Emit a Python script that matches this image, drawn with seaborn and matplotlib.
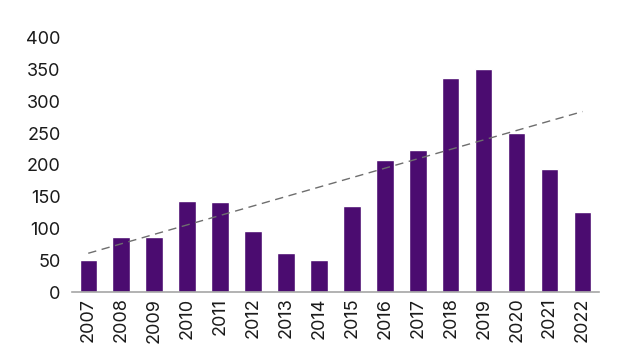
import matplotlib
matplotlib.use("Agg")
import matplotlib.pyplot as plt
import seaborn as sns
import pandas as pd

years = ["2007", "2008", "2009", "2010", "2011", "2012", "2013", "2014",
         "2015", "2016", "2017", "2018", "2019", "2020", "2021", "2022"]
values = [50, 87, 87, 143, 142, 96, 61, 50, 135, 208, 224, 337, 351, 250, 194, 126]
trend_years = ["2007", "2022"]
trend_values = [61, 284]
y_ticks = [0, 50, 100, 150, 200, 250, 300, 350, 400]

sns.set_theme(style="white")
plt.rcParams['font.family'] = ['Inter', 'DejaVu Sans']

fig = plt.figure(figsize=(6.24, 3.57), dpi=100)
ax = fig.add_axes([0.115, 0.182, 0.845, 0.712])

df = pd.DataFrame({"year": years, "value": values})
sns.barplot(data=df, x="year", y="value", color="#4B0C70", saturation=1,
            width=0.53, ax=ax)

xpos = [years.index(y) for y in trend_years]
ax.plot(xpos, trend_values, linestyle=(0, (6, 4)), color="#6e6e6e", linewidth=1.0)

ax.set_ylim(0, 400)
ax.set_yticks(y_ticks)
ax.set_xlim(-0.5, len(years) - 0.5)
ax.set_xlabel("")
ax.set_ylabel("")
for s in ["top", "right", "left"]:
    ax.spines[s].set_visible(False)
ax.spines["bottom"].set_color("#a6a6a6")
ax.spines["bottom"].set_linewidth(1.2)
ax.tick_params(axis="y", labelsize=13, length=0, pad=8, labelcolor="#1a1a1a")
ax.tick_params(axis="x", labelsize=13, length=0, pad=4, labelrotation=90, labelcolor="#1a1a1a")

fig.savefig("out.png", dpi=100)
